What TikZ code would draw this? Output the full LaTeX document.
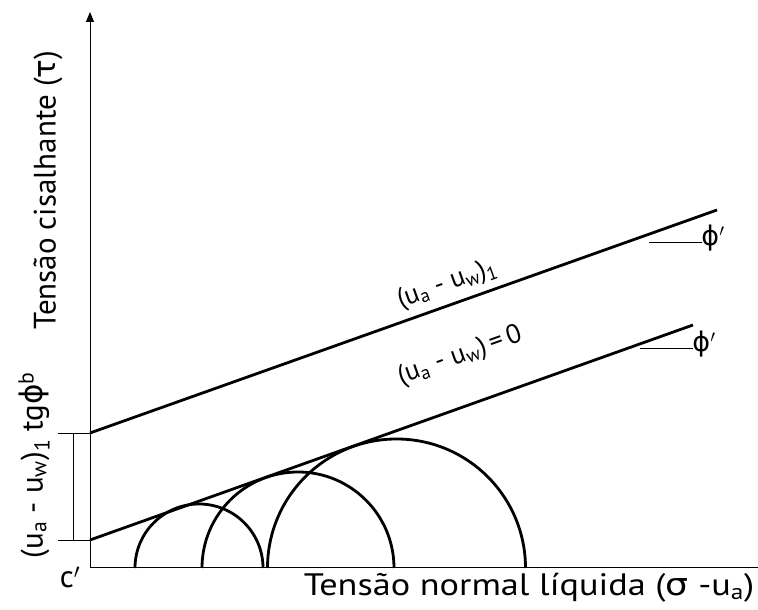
\documentclass[tikz,border=0pt]{standalone}
\usepackage{fontspec}
\setmainfont{PT Sans}
\newfontfamily\grk{DejaVu Sans}
\usetikzlibrary{arrows.meta}
\newcommand\sbs[1]{\textsubscript{#1}}
\begin{document}
\begin{tikzpicture}[x=1pt,y=1pt,
  axis/.style={line width=1pt},
  thickln/.style={line width=2.8pt},
  thinln/.style={line width=0.9pt},
  lbl/.style={font=\fontsize{31}{36}\selectfont, inner sep=0pt},
  lnlbl/.style={font=\fontsize{27}{32}\selectfont, inner sep=0pt},
  mohr/.style={line width=2.8pt}]
\useasboundingbox (0,0) rectangle (758,610);
% axes
\coordinate (O) at (90,42);
\coordinate (Ytip) at (90,598);
\coordinate (Xend) at (758,42);
\draw[axis,-{Triangle[length=10pt,width=8pt]}] (O) -- (Ytip);
\draw[axis] (O) -- (Xend);
% envelope lines
\coordinate (U0) at (90,177);
\coordinate (U1) at (717,400);
\coordinate (L0) at (90,70);
\coordinate (L1) at (693,285);
\draw[thickln] (U0) -- (U1);
\draw[thickln] (L0) -- (L1);
% bracket
\coordinate (B1) at (58,177);
\coordinate (B2) at (58,70);
\coordinate (B3) at (73,177);
\coordinate (B4) at (73,70);
\draw[thinln] (B1) -- (U0);
\draw[thinln] (B2) -- (L0);
\draw[thinln] (B3) -- (B4);
% Mohr circles
\coordinate (C1) at (199,42);
\coordinate (C2) at (298,42);
\coordinate (C3) at (396.5,42);
\draw[mohr] (C1) ++(-64,0) arc[start angle=180,end angle=0,radius=64];
\draw[mohr] (C2) ++(-96,0) arc[start angle=180,end angle=0,radius=96];
\draw[mohr] (C3) ++(-129,0) arc[start angle=180,end angle=0,radius=129];
% phi' marks
\coordinate (P1a) at (649,368);
\coordinate (P1b) at (702,368);
\coordinate (P2a) at (640,262);
\coordinate (P2b) at (693,262);
\draw[thinln] (P1a) -- (P1b);
\draw[thinln] (P2a) -- (P2b);
\node[lnlbl] (phi1) at (713,372) {{\grk ϕ}$'$};
\node[lnlbl] (phi2) at (704,266) {{\grk ϕ}$'$};
% labels
\node[lbl, rotate=90] (ylab) at (48,420) {Tensão cisalhante ({\grk τ})};
\node[lbl, rotate=90] (blab) at (34,145) {(u\sbs{a} - u\sbs{w})\sbs{1} tg{\grk ϕ}\textsuperscript{b}};
\node[lbl] (cp) at (70,33) {c$'$};
\node[lbl, xscale=1.17] (xlab) at (529,22) {Tensão normal líquida ({\grk σ} -u\sbs{a})};
\node[lnlbl, rotate=19.6] (ulab) at (447,326) {(u\sbs{a} - u\sbs{w})\sbs{1}};
\node[lnlbl, rotate=19.6] (llab) at (460,254) {(u\sbs{a} - u\sbs{w})\,=\,0};
\end{tikzpicture}
\end{document}
